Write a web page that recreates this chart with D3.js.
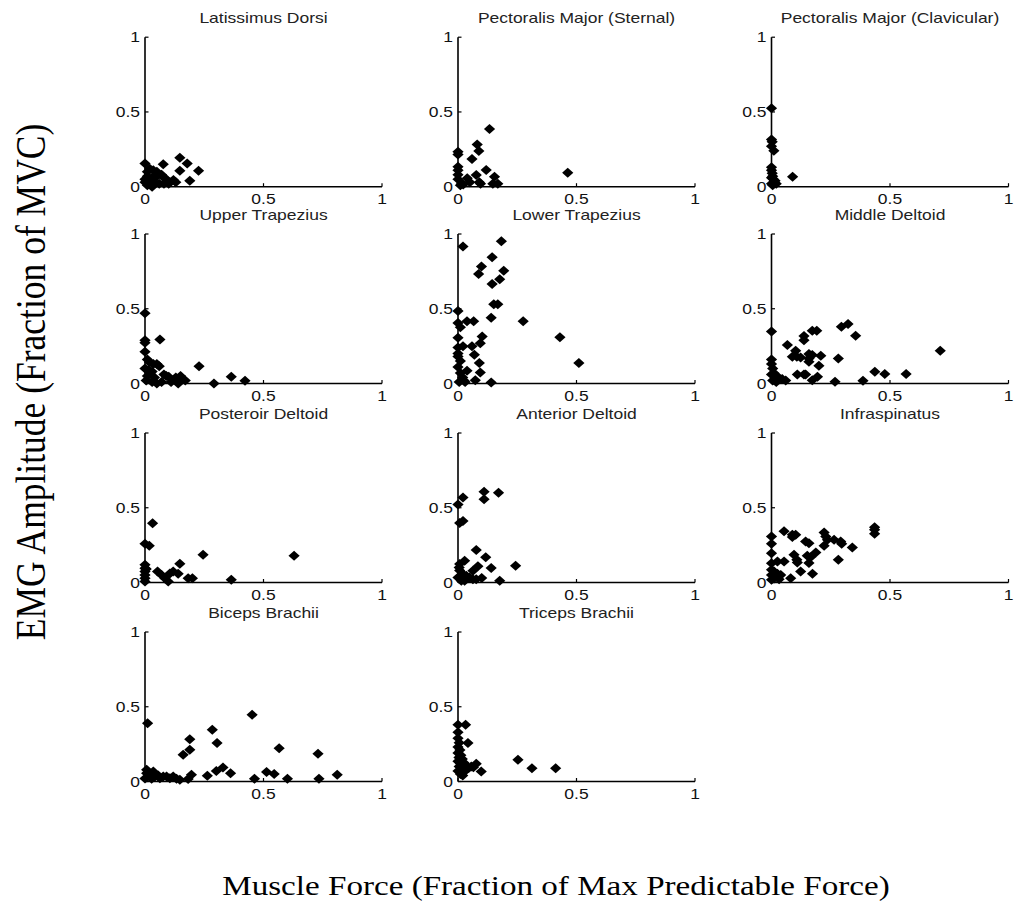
<!DOCTYPE html>
<html>
<head>
<meta charset="utf-8">
<script src="https://cdn.jsdelivr.net/npm/d3@7/dist/d3.min.js"></script>
<style>
  html, body { margin: 0; padding: 0; background: #fff; }
  svg { display: block; }
</style>
</head>
<body>
<svg id="chart" width="1021" height="907"></svg>
<script>
// Muscle panels, in reading order (3 per row)
const muscles = [
  "Latissimus Dorsi", "Pectoralis Major (Sternal)", "Pectoralis Major (Clavicular)",
  "Upper Trapezius", "Lower Trapezius", "Middle Deltoid",
  "Posteroir Deltoid", "Anterior Deltoid", "Infraspinatus",
  "Biceps Brachii", "Triceps Brachii"
];

// [force fraction, EMG fraction] pairs per muscle
const latissimusDorsi = [[0,0.156],[0.147,0.194],[0.178,0.156],[0.226,0.107],[0.147,0.107],[0.077,0.15],[0.189,0.04],[0.12,0.045],[0.105,0.03],[0.01,0.1],[0.02,0.12],[0.035,0.11],[0.05,0.1],[0.01,0.07],[0.03,0.06],[0.05,0.07],[0.07,0.08],[0.08,0.06],[0.09,0.05],[0,0.03],[0.02,0.02],[0.04,0.03],[0.06,0.02],[0.08,0.02],[0.1,0.02],[0.01,0.01],[0.03,0],[0,0.05],[0.13,0.03]];
const pectoralisSternal = [[0.133,0.386],[0.081,0.283],[0.088,0.239],[0,0.234],[0,0.216],[0.059,0.185],[0,0.134],[0,0.11],[0.119,0.112],[0.077,0.078],[0.154,0.067],[0.039,0.056],[0.463,0.094],[0.09,0.03],[0.095,0.02],[0.147,0.02],[0.168,0.02],[0.015,0.02],[0.022,0.015],[0,0.05],[0.05,0.03],[0.01,0.01],[0,0.08]];
const pectoralisClavicular = [[0,0.525],[0,0.315],[0.003,0.3],[0,0.27],[0.01,0.24],[0,0.13],[0,0.11],[0.003,0.09],[0.005,0.07],[0,0.06],[0.008,0.05],[0.012,0.03],[0.02,0.02],[0.005,0.01],[0.089,0.067],[0.015,0.04],[0,0.02]];
const upperTrapezius = [[0,0.47],[0,0.29],[0,0.273],[0.063,0.295],[0,0.213],[0.228,0.116],[0.01,0.16],[0.02,0.14],[0.035,0.13],[0.05,0.13],[0.06,0.115],[0,0.1],[0.015,0.09],[0.03,0.08],[0.08,0.06],[0.09,0.05],[0.1,0.045],[0.13,0.04],[0.15,0.05],[0.16,0.03],[0.364,0.045],[0.422,0.018],[0.291,0],[0.005,0.02],[0.03,0.01],[0.05,0],[0.07,0.01],[0.11,0.01],[0.14,0],[0.17,0.02],[0.01,0.05],[0.04,0.04]];
const lowerTrapezius = [[0.021,0.917],[0.183,0.951],[0.144,0.845],[0.099,0.782],[0.087,0.733],[0.193,0.755],[0.176,0.697],[0.144,0.665],[0.151,0.53],[0.168,0.53],[0.14,0.44],[0.275,0.416],[0.43,0.31],[0.51,0.137],[0,0.485],[0,0.404],[0.01,0.377],[0.038,0.416],[0.066,0.416],[0.102,0.315],[0.094,0.27],[0.059,0.25],[0.021,0.25],[0,0.306],[0,0.24],[0,0.2],[0,0.18],[0.069,0.193],[0.09,0.137],[0.094,0.074],[0.038,0.085],[0.073,0.022],[0.14,0.007],[0.01,0.15],[0,0.11],[0.01,0.07],[0.02,0.04],[0.025,0.02],[0.03,0.01],[0.005,0.01]];
const middleDeltoid = [[0,0.347],[0.712,0.219],[0.323,0.398],[0.295,0.38],[0.355,0.32],[0.172,0.353],[0.191,0.353],[0.137,0.318],[0.137,0.29],[0.067,0.257],[0.102,0.219],[0.088,0.179],[0.107,0.179],[0.123,0.174],[0.158,0.197],[0.172,0.19],[0.158,0.145],[0.158,0.168],[0.208,0.186],[0.2,0.119],[0.282,0.168],[0.109,0.06],[0.137,0.06],[0.144,0.06],[0.194,0.045],[0.172,0.022],[0.268,0.011],[0.386,0.018],[0.436,0.078],[0.478,0.063],[0.568,0.063],[0,0.16],[0,0.13],[0.005,0.1],[0.01,0.07],[0.02,0.05],[0.03,0.04],[0.045,0.03],[0.06,0.02],[0,0.06],[0.005,0.02],[0.02,0.01]];
const posteriorDeltoid = [[0.032,0.397],[0,0.259],[0.018,0.246],[0.245,0.185],[0.629,0.179],[0.147,0.125],[0.364,0.018],[0.053,0.074],[0.07,0.051],[0.084,0.029],[0.098,0.007],[0.105,0.06],[0.119,0.074],[0.14,0.058],[0.182,0.029],[0.2,0.029],[0,0.118],[0,0.096],[0,0.074],[0,0.051],[0,0.029],[0,0.007],[0.005,0.09]];
const anteriorDeltoid = [[0,0.521],[0.021,0.569],[0.11,0.607],[0.11,0.557],[0.171,0.6],[0.007,0.398],[0.021,0.411],[0.077,0.218],[0.117,0.169],[0.14,0.097],[0.243,0.112],[0.176,0.011],[0.084,0.108],[0.063,0.079],[0.028,0.146],[0.007,0.124],[0.007,0.08],[0.021,0.056],[0.035,0.045],[0.049,0.034],[0.063,0.022],[0.077,0.022],[0,0.034],[0.014,0.011],[0.028,0.011],[0.1,0.03],[0.005,0.1]];
const infraspinatus = [[0.435,0.37],[0.435,0.353],[0.435,0.326],[0.053,0.342],[0.088,0.319],[0.102,0.319],[0.088,0.304],[0,0.308],[0,0.259],[0,0.196],[0,0.129],[0,0.085],[0,0.051],[0,0.018],[0.144,0.275],[0.158,0.263],[0.222,0.335],[0.229,0.308],[0.236,0.286],[0.222,0.246],[0.264,0.286],[0.292,0.275],[0.296,0.259],[0.341,0.234],[0.187,0.201],[0.095,0.185],[0.107,0.152],[0.109,0.134],[0.151,0.179],[0.158,0.13],[0.166,0.17],[0.053,0.141],[0.025,0.141],[0.282,0.152],[0.123,0.074],[0.173,0.058],[0.081,0.029],[0.011,0.074],[0.025,0.058],[0.039,0.051],[0.011,0.029],[0.032,0.022]];
const bicepsBrachii = [[0.011,0.39],[0.452,0.446],[0.284,0.346],[0.304,0.257],[0.189,0.283],[0.189,0.212],[0.161,0.179],[0.566,0.223],[0.73,0.185],[0.329,0.094],[0.301,0.071],[0.361,0.056],[0.811,0.045],[0.513,0.063],[0.545,0.051],[0.462,0.018],[0.601,0.018],[0.734,0.018],[0.263,0.038],[0.196,0.045],[0.182,0.016],[0.007,0.078],[0.007,0.056],[0.021,0.045],[0.035,0.067],[0.042,0.034],[0.063,0.022],[0.077,0.034],[0.091,0.034],[0.105,0.022],[0.119,0.034],[0.133,0.018],[0.147,0.011],[0,0.02],[0.028,0.018],[0.056,0.04]];
const tricepsBrachii = [[0,0.38],[0.032,0.38],[0,0.33],[0,0.29],[0.005,0.26],[0.042,0.257],[0,0.23],[0.008,0.21],[0,0.19],[0.012,0.175],[0.004,0.16],[0.018,0.15],[0,0.135],[0.01,0.12],[0.025,0.125],[0.005,0.1],[0.015,0.085],[0,0.07],[0.01,0.05],[0.02,0.04],[0.253,0.145],[0.312,0.089],[0.412,0.089],[0.098,0.067],[0.077,0.118],[0.056,0.1],[0.035,0.105],[0.045,0.09],[0.065,0.095],[0.03,0.07]];

const muscleData = [
  latissimusDorsi, pectoralisSternal, pectoralisClavicular,
  upperTrapezius, lowerTrapezius, middleDeltoid,
  posteriorDeltoid, anteriorDeltoid, infraspinatus,
  bicepsBrachii, tricepsBrachii
];

const tickValues = [0, 0.5, 1];
const tickLabels = ["0", "0.5", "1"];
const xAxisTitle = "Muscle Force (Fraction of Max Predictable Force)";
const yAxisTitle = "EMG Amplitude (Fraction of MVC)";

// ---- layout ----
const svg = d3.select("#chart");
const stretch = 1.25;              // horizontal text stretch of the figure
const colLeft = [145, 458, 771.5];
const rowBottom = [186.7, 383.5, 582.5, 781.5];
const panelW = 237, panelH = 149.5;
const sansFont = "'Liberation Sans', Arial, Helvetica, sans-serif";
const serifFont = "'Liberation Serif', 'Times New Roman', serif";

// horizontally stretched text helper
function stretchedText(g, x, y, str, opts) {
  return g.append("text")
    .attr("transform", `translate(${x},${y}) scale(${stretch},1)`)
    .attr("text-anchor", opts.anchor || "middle")
    .attr("font-family", opts.family || sansFont)
    .attr("font-size", opts.size || 14)
    .attr("fill", opts.fill || "#111")
    .text(str);
}

const diamond = "M0,-5L5.6,0L0,5L-5.6,0Z";

muscles.forEach((name, i) => {
  const col = i % 3, row = Math.floor(i / 3);
  const x0 = colLeft[col], y0 = rowBottom[row];
  const x = d3.scaleLinear().domain([0, 1]).range([x0, x0 + panelW]);
  const y = d3.scaleLinear().domain([0, 1]).range([y0, y0 - panelH]);
  const g = svg.append("g").attr("class", "panel");

  // axes lines
  g.append("line").attr("x1", x(0)).attr("x2", x(1)).attr("y1", y(0)).attr("y2", y(0))
    .attr("stroke", "#000").attr("stroke-width", 1.6);
  g.append("line").attr("x1", x(0)).attr("x2", x(0)).attr("y1", y(0)).attr("y2", y(1))
    .attr("stroke", "#000").attr("stroke-width", 1.6);

  // inward ticks and labels
  tickValues.forEach((t, k) => {
    g.append("line").attr("x1", x(t)).attr("x2", x(t)).attr("y1", y(0)).attr("y2", y(0) - 3.5)
      .attr("stroke", "#000").attr("stroke-width", 1.2);
    g.append("line").attr("x1", x(0)).attr("x2", x(0) + 3.5).attr("y1", y(t)).attr("y2", y(t))
      .attr("stroke", "#000").attr("stroke-width", 1.2);
    stretchedText(g, x(t), y(0) + 17, tickLabels[k], { anchor: "middle", size: 14 });
    stretchedText(g, x(0) - 5, y(t) + 5, tickLabels[k], { anchor: "end", size: 14 });
  });

  // title
  stretchedText(g, x(0.5), y(1) - 14, name, { anchor: "middle", size: 14, fill: "#222" });

  // markers
  g.append("g").selectAll("path")
    .data(muscleData[i])
    .join("path")
    .attr("d", diamond)
    .attr("transform", d => `translate(${x(d[0])},${y(d[1])})`)
    .attr("fill", "#000");
});

// shared axis titles
svg.append("text")
  .attr("transform", "translate(556,895) scale(1.25,1)")
  .attr("text-anchor", "middle")
  .attr("font-family", serifFont)
  .attr("font-size", 26.5)
  .attr("fill", "#000")
  .text(xAxisTitle);

svg.append("text")
  .attr("transform", "translate(45,382) scale(1.2,1) rotate(-90)")
  .attr("text-anchor", "middle")
  .attr("font-family", serifFont)
  .attr("font-size", 35.5)
  .attr("fill", "#000")
  .text(yAxisTitle);
</script>
</body>
</html>
